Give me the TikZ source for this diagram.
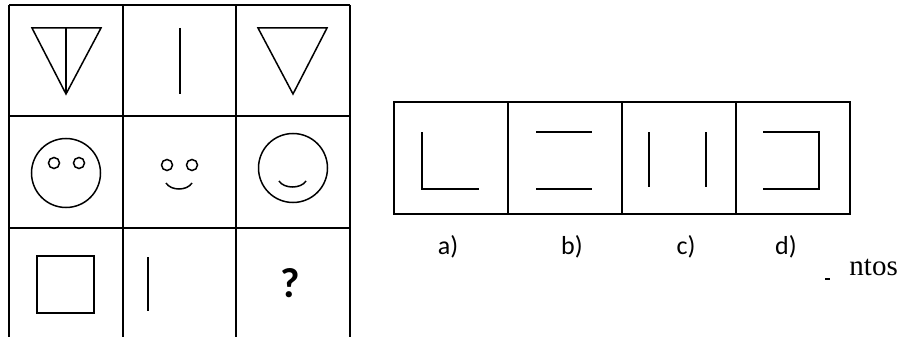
\documentclass[tikz,border=0pt]{standalone}
\usepackage{fontspec}
\setmainfont{Carlito}
\newfontfamily\ntosfont{Liberation Serif}
\usetikzlibrary{positioning}

\begin{document}
\begin{tikzpicture}[
  x=1pt, y=-1pt,
  grid/.style={line width=1.8pt},
  fig/.style={line width=1.5pt},
  cell/.style={draw, line width=1.7pt, minimum width=114pt, minimum height=112pt,
               inner sep=0pt, outer sep=0pt},
  lbl/.style={font=\fontsize{26}{28}\selectfont, inner sep=0pt}]

  \useasboundingbox (0,0) rectangle (903,337);

  % puzzle grid, open at the bottom
  \foreach \gx in {9,123,236,350}
    \draw[grid] (\gx,5) -- (\gx,337);
  \foreach \gy in {5,116,228}
    \draw[grid] (9,\gy) -- (350,\gy);

  % first row
  \draw[fig, line join=miter] (32,28) -- (101,28) -- (66,94) -- cycle;
  \draw[fig] (66,28) -- (66,94);
  \draw[fig] (180,28) -- (180,94);
  \draw[fig, line join=miter] (258,28) -- (327,28) -- (293,94) -- cycle;

  % second row
  \draw[fig] (66,173) circle (34.5);
  \draw[fig] (54,163) circle (5.5);
  \draw[fig] (79,163) circle (5.5);
  \draw[fig] (167,165) circle (5.5);
  \draw[fig] (192,165) circle (5.5);
  \draw[fig] (166,183) .. controls (171,191) and (187,191) .. (192,183);
  \draw[fig] (293,168) circle (34.5);
  \draw[fig] (279,181) .. controls (284,189) and (301,189) .. (306,181);

  % third row
  \draw[fig] (37,256) rectangle (94,313);
  \draw[fig] (148,257) -- (148,311);
  \node[font=\fontsize{42}{44}\selectfont\bfseries, inner sep=0pt] (quest) at (290,283) {?};

  % answer strip
  \node[cell] (ansA) at (451,158) {};
  \node[cell] (ansB) at (565,158) {};
  \node[cell] (ansC) at (679,158) {};
  \node[cell] (ansD) at (793,158) {};

  \draw[fig] (422,132) -- (422,189) -- (479,189);
  \draw[fig] (536,132) -- (592,132);
  \draw[fig] (536,189) -- (592,189);
  \draw[fig] (649,132) -- (649,187);
  \draw[fig] (706,132) -- (706,187);
  \draw[fig] (763,132) -- (819,132) -- (819,189) -- (763,189);

  % option labels
  \node[lbl] (lblA) at (448,247) {a)};
  \node[lbl] (lblB) at (572,247) {b)};
  \node[lbl] (lblC) at (686,247) {c)};
  \node[lbl] (lblD) at (786,247) {d)};

  % cut-off text at the right
  \node[font=\ntosfont\fontsize{29}{31}\selectfont, inner sep=0pt, anchor=base east]
    (ntos) at (898,275) {ntos};
  \draw[line width=1.2pt] (825,279) -- (830,279);
\end{tikzpicture}
\end{document}
